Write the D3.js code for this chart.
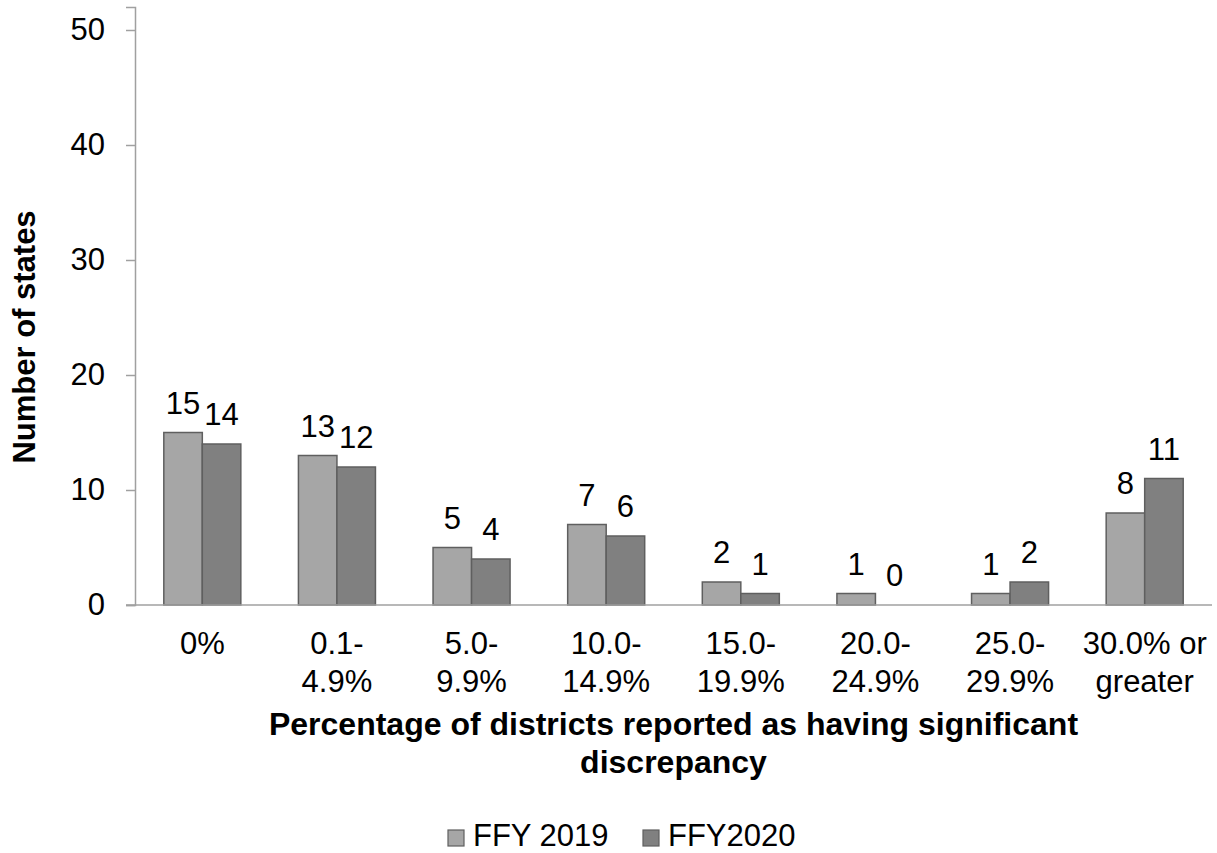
<!DOCTYPE html>
<html>
<head>
<meta charset="utf-8">
<script src="https://cdn.jsdelivr.net/npm/d3@7"></script>
<style>
  html, body { margin: 0; padding: 0; background: #ffffff; }
  svg { display: block; font-family: "Liberation Sans", Arial, sans-serif; }
</style>
</head>
<body>
<svg id="chart" width="1217" height="853"></svg>
<script>
const categories = [
  ["0%"],
  ["0.1-", "4.9%"],
  ["5.0-", "9.9%"],
  ["10.0-", "14.9%"],
  ["15.0-", "19.9%"],
  ["20.0-", "24.9%"],
  ["25.0-", "29.9%"],
  ["30.0% or", "greater"]
];
const seriesNames = ["FFY 2019", "FFY2020"];
const ffy2019 = [15, 13, 5, 7, 2, 1, 1, 8];
const ffy2020 = [14, 12, 4, 6, 1, 0, 2, 11];
const yTicks = [0, 10, 20, 30, 40, 50];
const seriesColors = ["#a6a6a6", "#808080"];
const xTitle = ["Percentage of districts reported as having significant", "discrepancy"];
const yTitle = "Number of states";

const svg = d3.select("#chart");
const catKeys = categories.map(c => c.join(" "));
const values = [ffy2019, ffy2020];

const x0 = d3.scaleBand().domain(catKeys).range([135, 1212]).paddingInner(0).paddingOuter(0);
const x1 = d3.scaleBand().domain(seriesNames).range([0, x0.bandwidth()]).paddingInner(0).paddingOuter(0.748);
const y = d3.scaleLinear().domain([0, 52]).range([605, 7]);

const axisColor = "#a0a0a0";

// Bars
const groups = svg.append("g").selectAll("g")
  .data(catKeys)
  .join("g")
  .attr("transform", d => `translate(${x0(d)},0)`);

groups.selectAll("rect")
  .data((d, i) => seriesNames.map((s, j) => ({ s, v: values[j][i], j })))
  .join("rect")
  .attr("x", d => x1(d.s))
  .attr("width", x1.bandwidth())
  .attr("y", d => y(d.v))
  .attr("height", d => y(0) - y(d.v))
  .attr("fill", d => seriesColors[d.j])
  .attr("stroke", "#5f5f5f")
  .attr("stroke-width", 1.5);

groups.selectAll("text.lbl")
  .data((d, i) => seriesNames.map((s, j) => ({ s, v: values[j][i], j })))
  .join("text")
  .attr("class", "lbl")
  .attr("x", d => x1(d.s) + x1.bandwidth() / 2)
  .attr("y", d => y(d.v) - 19)
  .attr("text-anchor", "middle")
  .attr("font-size", 31)
  .attr("fill", "#000")
  .text(d => d.v);

// Y axis
const yAxis = d3.axisLeft(y).tickValues(yTicks).tickSize(9).tickPadding(21).tickFormat(d3.format("d"));
const gy = svg.append("g").attr("transform", "translate(135,0)").call(yAxis);
gy.select(".domain").attr("stroke", axisColor).attr("stroke-width", 1.5);
gy.selectAll(".tick line").attr("stroke", axisColor).attr("stroke-width", 1.5);
gy.selectAll(".tick text").attr("font-size", 31).attr("fill", "#000")
  .attr("font-family", "Liberation Sans, Arial, sans-serif");

// X axis
const xAxis = d3.axisBottom(x0).tickSize(0).tickPadding(0).tickFormat("");
const gx = svg.append("g").attr("transform", `translate(0,${y(0)})`).call(xAxis);
gx.select(".domain").attr("stroke", axisColor).attr("stroke-width", 1.5)
  .attr("d", `M126,0H1212`);

// X tick labels (multi-line)
const tl = svg.append("g").selectAll("text")
  .data(categories)
  .join("text")
  .attr("x", (d, i) => x0(catKeys[i]) + x0.bandwidth() / 2)
  .attr("y", 654)
  .attr("text-anchor", "middle")
  .attr("font-size", 31)
  .attr("fill", "#000");
tl.selectAll("tspan")
  .data(d => d)
  .join("tspan")
  .attr("x", function() { return d3.select(this.parentNode).attr("x"); })
  .attr("dy", (d, i) => i === 0 ? 0 : 37.5)
  .text(d => d);

// X title
const xt = svg.append("text")
  .attr("x", (135 + 1212) / 2)
  .attr("y", 735)
  .attr("text-anchor", "middle")
  .attr("font-size", 32)
  .attr("font-weight", "bold")
  .attr("fill", "#000");
xt.selectAll("tspan").data(xTitle).join("tspan")
  .attr("x", (135 + 1212) / 2)
  .attr("dy", (d, i) => i === 0 ? 0 : 37.5)
  .text(d => d);

// Y title
svg.append("text")
  .attr("transform", "translate(35,337) rotate(-90)")
  .attr("text-anchor", "middle")
  .attr("font-size", 31)
  .attr("font-weight", "bold")
  .attr("fill", "#000")
  .text(yTitle);

// Legend
const legendX = [448, 643];
const lg = svg.append("g").selectAll("g")
  .data(seriesNames)
  .join("g")
  .attr("transform", (d, i) => `translate(${legendX[i]},830)`);
lg.append("rect")
  .attr("width", 16).attr("height", 16)
  .attr("fill", (d, i) => seriesColors[i])
  .attr("stroke", "#5f5f5f").attr("stroke-width", 1.2);
lg.append("text")
  .attr("x", 25).attr("y", 16)
  .attr("font-size", 31)
  .attr("fill", "#000")
  .text(d => d);
</script>
</body>
</html>
